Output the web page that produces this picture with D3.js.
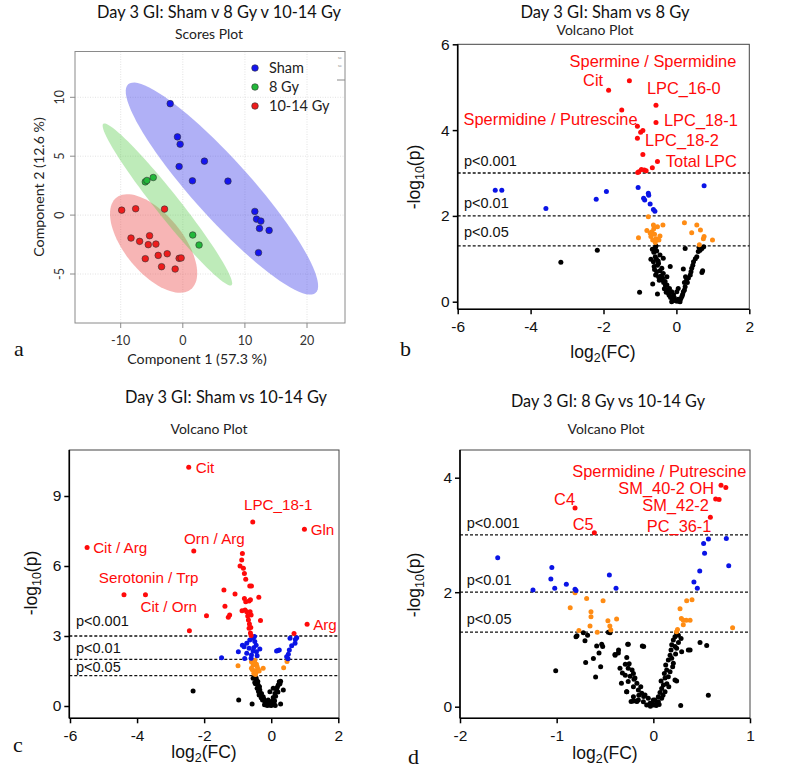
<!DOCTYPE html>
<html><head><meta charset="utf-8">
<script src="https://cdn.jsdelivr.net/npm/d3@7"></script>
<style>body{margin:0;background:#fff}</style>
</head><body>
<svg id="c" width="800" height="780"></svg>
<script>
// ---------- Panel a: PLS-DA scores ----------
const groupNames = ["Sham", "8 Gy", "10-14 Gy"];
const shamPts = [[-2.03,9.46],[-0.86,6.64],[-0.43,6.02],[-0.59,4.12],[3.48,4.58],[1.55,2.91],[7.27,2.88],[11.6,0.31],[11.87,-0.34],[12.57,-0.51],[12.35,-1.13],[13.9,-1.30],[12.19,-3.19]];
const gy8Pts = [[-6.04,2.82],[-5.78,2.94],[-4.76,3.19],[1.6,-1.69],[2.62,-2.54]];
const gy1014Pts = [[-9.84,0.42],[-7.59,0.54],[-2.94,0.51],[-8.34,-1.95],[-6.95,-2.23],[-5.35,-1.75],[-5.56,-2.51],[-4.33,-2.46],[-6.04,-3.70],[-3.96,-3.42],[-2.51,-3.28],[-3.42,-4.38],[-1.23,-4.58],[-0.59,-3.67],[-0.27,-3.64]];
// confidence ellipses: centre and two conjugate half-axes (data units)
const shamEllipse = [6.3, 2.25, 15.1, -8.85, 3.46, 1.64];
const gy8Ellipse = [-2.48, 0.9, 10.32, -6.85, 1.51, 0.63];
const gy1014Ellipse = [-4.7, -2.41, 7.02, -2.52, 0, 3.34];
const aXTicks = [-10, 0, 10, 20];
const aYTicks = [-5, 0, 5, 10];

// ---------- Volcano common ----------
const pThresh = [3, 2, 1.301];
const pLabels = ["p<0.001", "p<0.01", "p<0.05"];

// ---------- Panel b: Sham vs 8 Gy ----------
const bRed = [[-1.29,5.15],[-1.86,4.93],[-1.50,4.47],[-0.56,4.58],[-0.56,4.18],[-1.07,4.09],[-0.98,3.95],[-0.92,3.99],[-1.07,3.81],[-0.92,3.43],[-0.52,3.27],[-0.66,3.12],[-1.03,3.03],[-0.96,3.08],[-0.83,3.05],[-1.06,3.01],[-0.88,3.07]];
const bBlue = [[-4.97,2.60],[-4.79,2.60],[-3.58,2.17],[-2.20,2.39],[-1.92,2.57],[-1.05,2.66],[0.76,2.70],[-0.77,2.53],[-0.76,2.48],[-0.90,2.41],[-0.87,2.37],[-0.72,2.28],[-0.63,2.15],[-0.59,2.11]];
const bOrange = [[-0.77,1.98],[-1.04,1.49],[-0.81,1.66],[-0.63,1.79],[-0.52,1.75],[-0.37,1.79],[-0.67,1.63],[-0.60,1.57],[-0.70,1.52],[-0.56,1.47],[-0.48,1.44],[-0.65,1.44],[-0.45,1.53],[0.22,1.84],[0.56,1.79],[0.42,1.61],[0.66,1.67],[0.76,1.52],[0.74,1.47],[0.99,1.44],[0.63,1.33],[-0.62,1.70],[-0.58,1.38],[-0.72,1.60]];
const bBlack = [[-3.17,0.92],[-2.17,1.20],[-1.01,0.22],[-0.52,0.18],
[-0.58,1.26],[-0.54,1.18],[-0.45,1.09],[-0.58,1.05],[-0.63,0.93],[-0.49,0.89],[-0.61,0.82],[-0.40,0.78],[-0.54,0.70],[-0.36,0.66],[-0.49,0.58],[-0.40,0.51],[-0.31,0.47],[-0.26,0.39],[-0.19,0.31],[-0.13,0.23],[-0.08,0.16],[-0.04,0.04],[0.05,0.06],[0.15,0.12],[0.19,0.23],[0.24,0.35],[0.28,0.51],[0.38,0.62],[0.42,0.78],[0.47,0.93],[0.56,1.05],[0.60,1.17],[0.70,1.24],[0.19,0.76],[0.24,1.24],[0.05,0.31],[-0.36,1.01],[-0.17,0.82],[-0.65,0.41],[-0.26,0.58],[-0.22,0.20],[0.01,0.23],[0.10,0.0],[-0.13,0.0],
[-0.62,1.15],[-0.55,1.0],[-0.5,0.95],[-0.6,0.75],[-0.52,0.85],[-0.45,0.72],[-0.57,0.62],[-0.42,0.6],[-0.47,0.5],[-0.35,0.45],[-0.38,0.55],[-0.3,0.38],[-0.33,0.3],[-0.25,0.28],[-0.28,0.22],[-0.2,0.15],[-0.16,0.1],[-0.1,0.06],[-0.06,0.1],[-0.02,0.02],[0.02,0.01],[0.08,0.03],[0.12,0.07],[0.17,0.17],[0.22,0.27],[0.3,0.45],[0.33,0.55],[0.4,0.7],[0.45,0.85],[0.52,1.0],[0.65,1.2],[0.75,1.28],[0.7,0.68],[0.72,0.72],[0.25,0.58],[0.22,0.45],[-0.7,0.99],[-0.66,1.22],[-0.56,1.3],[0.62,1.27]];
const bLabels = ["Spermine / Spermidine","Cit","LPC_16-0","Spermidine / Putrescine","LPC_18-1","LPC_18-2","Total LPC"];

// ---------- Panel c: Sham vs 10-14 Gy ----------
const cRed = [[-2.46,10.23],[-0.55,7.89],[0.99,7.57],[-5.49,6.79],[-2.31,6.64],[-4.39,4.77],[-3.75,4.77],[-1.93,3.87],[-2.44,3.23],[1.07,3.5],[0.68,3.11],[-1.41,4.97],[-1.08,4.8],[-1.38,4.27],[-1.28,3.8],[-1.24,3.9],[-0.37,4.66],[-0.32,3.66],
[-0.86,6.54],[-0.88,6.26],[-0.93,6.0],[-0.83,5.9],[-0.80,5.68],[-0.76,5.43],[-0.64,5.14],[-0.59,5.14],[-0.8,4.61],[-0.76,4.47],[-0.66,4.5],[-0.78,4.11],[-0.73,4.04],[-0.63,4.04],[-0.60,3.90],[-0.70,3.86],[-0.68,3.69],[-0.65,3.51],[-0.66,3.33],[-0.61,3.36],[-0.62,3.13],[-0.60,3.02],[-0.87,4.08],[-0.62,4.55]];
const cBlue = [[-1.48,2.07],[-0.98,2.33],[-0.81,2.54],[-0.73,2.69],[-0.64,2.83],[-0.54,2.90],[-0.49,2.76],[-0.66,2.47],[-0.54,2.36],[-0.44,2.33],[-0.73,2.26],[-0.59,2.19],[-0.79,2.04],[-0.34,2.44],[0.16,2.36],[0.24,2.40],[0.56,2.90],[0.76,2.93],[0.71,2.69],[0.61,2.58],[0.54,2.40],[0.51,2.22],[0.46,2.11],[-0.5,2.98],[-0.45,2.6],[-0.6,2.05],[-0.42,2.15],[0.72,2.85],[0.5,2.02],[-0.86,2.6],[0.2,2.38],[-0.52,2.5]];
const cOrange = [[-0.99,1.73],[0.37,1.64],[0.47,1.91],[-0.24,1.62],[-0.59,1.90],[-0.49,1.96],[-0.54,1.76],[-0.44,1.79],[-0.59,1.62],[-0.49,1.50],[-0.39,1.58],[-0.52,1.40],[-0.45,1.45],[-0.56,1.55],[-0.42,1.68],[-0.5,1.85],[-0.47,1.35],[-0.36,1.5]];
const cBlack = [[-2.33,0.64],[-0.97,0.26],[-0.57,0.09],[0.28,0.09],[0.36,0.69],
[-0.54,1.19],[-0.44,1.11],[-0.49,1.01],[-0.39,0.90],[-0.42,0.76],[-0.34,0.69],[-0.29,0.54],[-0.36,0.47],[-0.24,0.40],[-0.26,0.26],[-0.19,0.19],[-0.14,0.07],[-0.04,0.04],[-0.09,0.26],[0.01,0.19],[0.06,0.36],[0.11,0.54],[0.16,0.69],[0.21,0.90],[0.24,1.04],[0.06,0.76],[-0.04,0.61],
[-0.5,1.25],[-0.45,1.2],[-0.4,1.05],[-0.47,0.95],[-0.35,0.82],[-0.38,0.62],[-0.3,0.35],[-0.22,0.3],[-0.17,0.12],[-0.1,0.15],[-0.07,0.05],[0.0,0.02],[0.04,0.08],[0.08,0.12],[0.1,0.22],[0.13,0.42],[0.18,0.8],[0.2,0.6],[0.26,0.95],[0.28,1.06],[-0.2,0.05],[0.12,0.02],[-0.12,0.02]];
const cLabels = ["Cit","LPC_18-1","Gln","Orn / Arg","Cit / Arg","Serotonin / Trp","Cit / Orn","Arg"];

// ---------- Panel d: 8 Gy vs 10-14 Gy ----------
const dRed = [[-0.81,3.47],[-0.61,3.04],[0.70,3.87],[0.75,3.83],[0.645,3.63],[0.68,3.62],[0.59,3.31]];
const dBlue = [[-1.61,2.6],[-1.245,2.04],[-1.05,2.43],[-1.06,2.23],[-1.02,2.07],[-0.90,2.14],[-0.81,2.05],[-0.80,2.03],[-0.455,2.3],[-0.386,2.07],[0.52,2.85],[0.57,2.93],[0.755,2.94],[0.53,2.68],[0.78,2.46],[0.48,2.37],[0.42,2.18],[0.455,2.07]];
const dOrange = [[-0.81,1.99],[-0.69,1.89],[-0.52,1.85],[-0.86,1.73],[-0.645,1.66],[-0.645,1.57],[-0.655,1.41],[-0.77,1.33],[-0.58,1.30],[-0.47,1.50],[-0.38,1.53],[-0.45,1.41],[-0.44,1.34],[0.276,1.71],[0.345,1.85],[0.40,1.87],[0.29,1.54],[0.31,1.51],[0.34,1.51],[0.38,1.51],[0.31,1.43],[0.25,1.35],[0.24,1.31],[0.82,1.38]];
const dBlack = [[-1.01,0.63],[-0.80,1.22],[-0.724,1.29],[-0.68,1.25],[-0.707,1.15],[-0.586,1.06],[-0.534,1.09],[-0.524,1.05],[-0.562,0.94],[-0.62,0.84],[-0.70,0.77],[-0.545,0.70],[-0.597,0.52],[-0.448,1.29],[-0.397,0.91],[-0.362,0.94],[-0.259,1.09],[-0.114,1.06],[0.483,1.12],[0.552,1.07],[0.362,0.99],[0.241,0.45],[0.569,0.2],[0.283,0.02],
[-0.79,1.24],[-0.465,1.30],[-0.36,0.99],[-0.1,1.05],[-0.395,0.90],[-0.275,0.86],[-0.345,0.67],[-0.29,0.74],
[-0.26,0.67],[-0.22,0.64],[-0.206,0.58],[-0.24,0.53],[-0.29,0.55],[-0.19,0.50],[-0.26,0.44],[-0.17,0.41],[-0.206,0.35],[-0.155,0.29],[-0.275,0.26],[-0.12,0.233],[-0.086,0.204],[-0.206,0.175],[-0.155,0.117],[-0.052,0.146],[-0.103,0.088],[-0.034,0.059],[-0.069,0.03],[0.0,0.03],[0.035,0.059],[0.017,0.117],[0.052,0.175],[0.069,0.25],[0.086,0.32],[0.104,0.38],[0.08,0.45],[0.121,0.50],[0.114,0.58],[0.138,0.64],[0.128,0.73],[0.155,0.816],[0.173,0.90],[0.183,0.99],[0.19,1.08],[0.207,1.165],[0.224,1.22],[0.241,1.28],[0.259,1.25],[0.287,1.19],[0.224,1.05],[0.241,1.02],[0.293,0.96],[0.19,0.845],[0.207,0.758],[0.173,0.61],[0.155,0.525],[0.224,0.466],[0.121,0.262],[0.086,0.146],[0.052,0.088],[0.0,0.117],[0.38,0.99],[-0.206,0.1],[-0.172,0.1],[-0.265,1.09],
[-0.33,0.41],[-0.276,0.26],[-0.23,0.09],[-0.17,0.09],[-0.03,0.01],[0.03,0.02],[-0.01,0.06],[0.06,0.04],[0.1,0.2],[0.14,0.4],[0.16,0.35],[0.2,0.7],[-0.13,0.35],[-0.1,0.18],[-0.15,0.2],[-0.2,0.48],[-0.32,0.59],[-0.25,0.75],[0.26,1.12],[0.23,0.92]];
const dLabels = ["Spermidine / Putrescine","SM_40-2 OH","C4","SM_42-2","C5","PC_36-1"];

const titles = ["Day 3 GI: Sham v 8 Gy v 10-14 Gy","Day 3 GI: Sham vs 8 Gy","Day 3 GI: Sham vs 10-14 Gy","Day 3 GI: 8 Gy vs 10-14 Gy"];
const subtitles = ["Scores Plot","Volcano Plot","Volcano Plot","Volcano Plot"];

// ================= drawing =================
const svg = d3.select('#c');
const SANS = "Lato, 'Open Sans', sans-serif";
const ARIAL = "'Liberation Sans', Arial, sans-serif";
const SERIF = "'Liberation Serif', 'Times New Roman', serif";

function txt(g, x, y, s, size, fam, anchor, fill) {
  return g.append('text').attr('x', x).attr('y', y).text(s)
    .attr('font-size', size).attr('font-family', fam)
    .attr('text-anchor', anchor || 'start').attr('fill', fill || '#111');
}
function fitted(g, x, y, s, size, len) {
  return txt(g, x, y, s, size, SANS, 'middle', '#111')
    .attr('textLength', len).attr('lengthAdjust', 'spacingAndGlyphs');
}

// ----- panel a -----
(function(){
  const g = svg.append('g');
  const L = 75, R = 345, T = 51.5, B = 323;
  const x = d3.scaleLinear().domain([-10, 20]).range([120.7, 307]);
  const y = d3.scaleLinear().domain([-5, 10]).range([274, 97.3]);
  fitted(g, 219, 17.5, titles[0], 17, 244);
  fitted(g, 209, 38.5, subtitles[0], 13, 68).attr('fill', '#222');
  // grid
  aXTicks.forEach(v => g.append('line').attr('x1', x(v)).attr('x2', x(v)).attr('y1', T).attr('y2', B)
    .attr('stroke', '#dadada').attr('stroke-dasharray', '1,1.5').attr('stroke-width', 0.8));
  aYTicks.forEach(v => g.append('line').attr('x1', L).attr('x2', R).attr('y1', y(v)).attr('y2', y(v))
    .attr('stroke', '#dadada').attr('stroke-dasharray', '1,1.5').attr('stroke-width', 0.8));
  // ellipses
  const ell = (e) => {
    const pts = d3.range(0, 361, 4).map(t => {
      const a = t * Math.PI / 180;
      return [x(e[0] + e[2] * Math.cos(a) + e[4] * Math.sin(a)), y(e[1] + e[3] * Math.cos(a) + e[5] * Math.sin(a))];
    });
    return d3.line().curve(d3.curveLinearClosed)(pts);
  };
  g.append('path').attr('d', ell(shamEllipse)).attr('fill', 'rgba(58,58,232,0.40)');
  g.append('path').attr('d', ell(gy1014Ellipse)).attr('fill', 'rgba(235,70,70,0.40)');
  g.append('path').attr('d', ell(gy8Ellipse)).attr('fill', 'rgba(92,205,80,0.40)');
  const cols = ['#1414f0', '#22b83a', '#ee1c1c'];
  [shamPts, gy8Pts, gy1014Pts].forEach((arr, i) => {
    g.selectAll(null).data(arr).enter().append('circle')
      .attr('cx', d => x(d[0])).attr('cy', d => y(d[1])).attr('r', 3.3)
      .attr('fill', cols[i]).attr('stroke', '#333').attr('stroke-width', 0.6);
  });
  // frame
  g.append('rect').attr('x', L).attr('y', T).attr('width', R - L).attr('height', B - T)
    .attr('fill', 'none').attr('stroke', '#8a8a8a').attr('stroke-width', 1);
  g.append('line').attr('x1', 337).attr('x2', R).attr('y1', 80).attr('y2', 80).attr('stroke', '#8a8a8a');
  txt(g, 338, 59, 'se', 4, SANS, 'start', '#888');
  txt(g, 338, 67, 'se', 4, SANS, 'start', '#888');
  // ticks
  aXTicks.forEach(v => {
    g.append('line').attr('x1', x(v)).attr('x2', x(v)).attr('y1', B).attr('y2', B + 5).attr('stroke', '#8a8a8a');
    txt(g, x(v), 345, String(v), 12.5, SANS, 'middle', '#333');
  });
  aYTicks.forEach(v => {
    g.append('line').attr('x1', L - 5).attr('x2', L).attr('y1', y(v)).attr('y2', y(v)).attr('stroke', '#8a8a8a');
    g.append('text').attr('transform', `translate(63.5,${y(v)}) rotate(-90)`).text(String(v))
      .attr('font-size', 12.5).attr('font-family', SANS).attr('text-anchor', 'middle').attr('fill', '#333');
  });
  txt(g, 197, 364, 'Component 1 (57.3 %)', 14.2, SANS, 'middle', '#222');
  g.append('text').attr('transform', 'translate(44,187) rotate(-90)').text('Component 2 (12.6 %)')
    .attr('font-size', 14.2).attr('font-family', SANS).attr('text-anchor', 'middle').attr('fill', '#222');
  // legend
  groupNames.forEach((n, i) => {
    const yy = 68 + i * 19;
    g.append('circle').attr('cx', 255).attr('cy', yy).attr('r', 3.3).attr('fill', cols[i]).attr('stroke', '#333').attr('stroke-width', 0.6);
    txt(g, 269, yy + 5, n, 14.5, SANS, 'start', '#222');
  });
  txt(g, 14, 356, 'a', 22, SERIF, 'start', '#111');
})();

// ----- volcano panels -----
function volcano(cfg) {
  const g = svg.append('g');
  const x = d3.scaleLinear().domain(cfg.xd).range(cfg.xr);
  const y = d3.scaleLinear().domain(cfg.yd).range(cfg.yr);
  fitted(g, cfg.titleX, cfg.titleY, cfg.title, 17, cfg.titleW);
  fitted(g, cfg.subX, cfg.subY, cfg.sub, 14, 77).attr('fill', '#222');
  g.append('rect').attr('x', cfg.L).attr('y', cfg.T).attr('width', cfg.R - cfg.L).attr('height', cfg.B - cfg.T)
    .attr('fill', 'none').attr('stroke', '#444').attr('stroke-width', 1);
  pThresh.forEach((v, i) => {
    g.append('line').attr('x1', cfg.L).attr('x2', cfg.R).attr('y1', y(v)).attr('y2', y(v))
      .attr('stroke', '#111').attr('stroke-width', 1.3).attr('stroke-dasharray', '3,2');
    txt(g, cfg.pX, y(v) - cfg.pOff[i], pLabels[i], 14.5, ARIAL, 'start', '#111');
  });
  const sets = [[cfg.black, '#000'], [cfg.orange, '#ff8c14'], [cfg.blue, '#0a14e6'], [cfg.red, '#ff0a0a']];
  sets.forEach(([arr, col]) => {
    g.selectAll(null).data(arr).enter().append('circle')
      .attr('cx', d => x(d[0])).attr('cy', d => y(d[1])).attr('r', 2.5).attr('fill', col);
  });
  cfg.labels.forEach((s, i) => {
    txt(g, x(cfg.labPos[i][0]), y(cfg.labPos[i][1]), s, cfg.labSize, ARIAL, 'start', '#ff0a0a');
  });
  const fmt = d => String(d);
  const xa = g.append('g').attr('transform', `translate(0,${cfg.B})`)
    .call(d3.axisBottom(x).tickValues(cfg.xt).tickSize(5).tickSizeOuter(0).tickPadding(7).tickFormat(fmt));
  const ya = g.append('g').attr('transform', `translate(${cfg.L},0)`)
    .call(d3.axisLeft(y).tickValues(cfg.yt).tickSize(5).tickSizeOuter(0).tickPadding(3).tickFormat(fmt));
  [xa, ya].forEach(a => {
    a.select('.domain').remove();
    a.selectAll('line').attr('stroke', '#000').attr('stroke-width', 1.5);
    a.selectAll('text').attr('font-size', 15.5).attr('font-family', ARIAL).attr('fill', '#111');
  });
  g.append('line').attr('x1', cfg.L).attr('x2', cfg.L).attr('y1', cfg.T).attr('y2', cfg.B).attr('stroke', '#000').attr('stroke-width', 1.6);
  g.append('line').attr('x1', cfg.L).attr('x2', cfg.R).attr('y1', cfg.B).attr('y2', cfg.B).attr('stroke', '#000').attr('stroke-width', 1.6);
  // axis titles
  const xl = g.append('text').attr('x', cfg.xlX).attr('y', cfg.xlY).attr('text-anchor', 'middle')
    .attr('font-size', 17.5).attr('font-family', ARIAL).attr('fill', '#111');
  xl.append('tspan').text('log');
  xl.append('tspan').text('2').attr('font-size', 12.5).attr('dy', 4);
  xl.append('tspan').text('(FC)').attr('dy', -4);
  const yl = g.append('text').attr('transform', `translate(${cfg.ylX},${cfg.ylY}) rotate(-90)`).attr('text-anchor', 'middle')
    .attr('font-size', 17.5).attr('font-family', ARIAL).attr('fill', '#111');
  yl.append('tspan').text('-log');
  yl.append('tspan').text('10').attr('font-size', 12.5).attr('dy', 4);
  yl.append('tspan').text('(p)').attr('dy', -4);
  txt(g, cfg.letX, cfg.letY, cfg.letter, 22, SERIF, 'start', '#111');
}

volcano({
  title: titles[1], sub: subtitles[1], titleX: 605, titleY: 17.5, titleW: 169, subX: 595, subY: 35,
  L: 457.7, R: 749.3, T: 44.3, B: 309.3,
  xd: [-6, 2], xr: [457.7, 749.3], yd: [0, 6], yr: [301.7, 44.3],
  xt: [-6, -4, -2, 0, 2], yt: [0, 2, 4, 6],
  pX: 464, pOff: [7, 8, 9],
  red: bRed, blue: bBlue, orange: bOrange, black: bBlack,
  labels: bLabels, labSize: 16.4,
  labPos: [[-2.93, 5.47], [-2.56, 5.02], [-0.81, 4.83], [-5.84, 4.11], [-0.34, 4.09], [-0.86, 3.64], [-0.29, 3.14]],
  xlX: 603, xlY: 358, ylX: 420, ylY: 177, letter: 'b', letX: 400, letY: 356
});
volcano({
  title: titles[2], sub: subtitles[2], titleX: 226, titleY: 402.5, titleW: 202, subX: 209, subY: 433.5,
  L: 69.3, R: 339, T: 450, B: 718.3,
  xd: [-6, 2], xr: [70, 338.3], yd: [0, 9], yr: [706, 496],
  xt: [-6, -4, -2, 0, 2], yt: [0, 3, 6, 9],
  pX: 76, pOff: [10, 6, 4],
  red: cRed, blue: cBlue, orange: cOrange, black: cBlack,
  labels: cLabels, labSize: 15.2,
  labPos: [[-2.25, 10.0], [-0.81, 8.38], [1.175, 7.34], [-2.60, 6.95], [-5.31, 6.55], [-5.14, 5.28], [-3.90, 4.02], [1.25, 3.25]],
  xlX: 204, xlY: 758, ylX: 37, ylY: 583, letter: 'c', letX: 13, letY: 752
});
volcano({
  title: titles[3], sub: subtitles[3], titleX: 608, titleY: 406.5, titleW: 194, subX: 606, subY: 433.5,
  L: 460, R: 750, T: 450, B: 718.3,
  xd: [-2, 1], xr: [460, 750], yd: [0, 4], yr: [706.7, 477.7],
  xt: [-2, -1, 0, 1], yt: [0, 2, 4],
  pX: 466.7, pOff: [7, 7, 8],
  red: dRed, blue: dBlue, orange: dOrange, black: dBlack,
  labels: dLabels, labSize: 16.4,
  labPos: [[-0.838, 4.02], [-0.362, 3.72], [-1.027, 3.53], [-0.114, 3.41], [-0.834, 3.08], [-0.068, 3.06]],
  xlX: 605, xlY: 759, ylX: 420, ylY: 585, letter: 'd', letX: 408, letY: 764
});
</script>
</body></html>
